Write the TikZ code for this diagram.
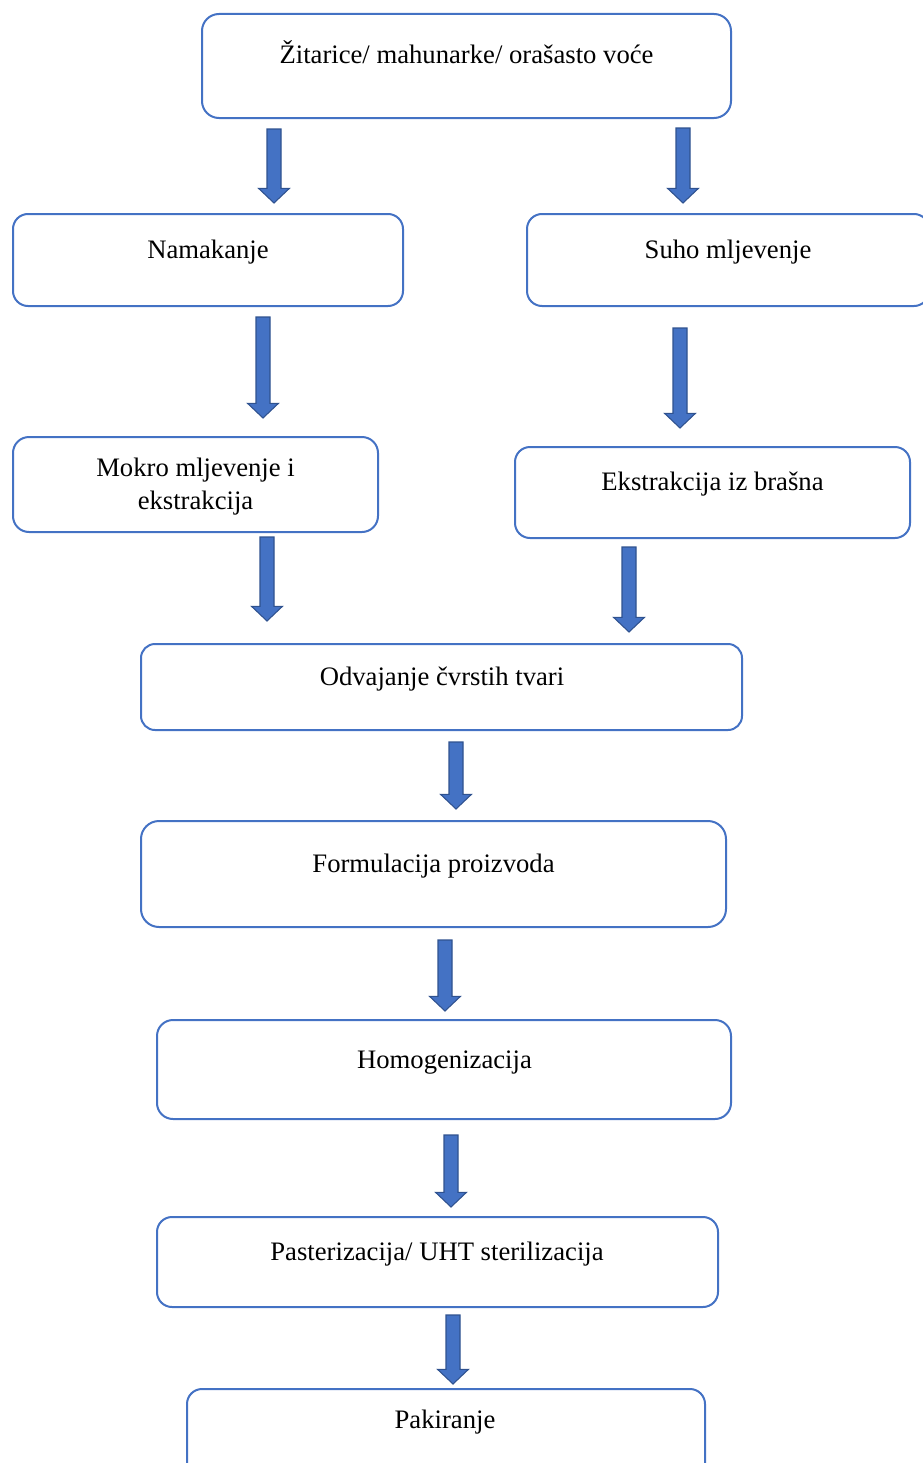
\documentclass[tikz,border=0pt]{standalone}
\usepackage{fontspec}
\setmainfont{Liberation Serif}
\usetikzlibrary{calc}
\definecolor{boxblue}{HTML}{4472C4}
\definecolor{arrowedge}{HTML}{2F528F}
\tikzset{
  stepbox/.style={draw=boxblue, line width=1.5pt, rounded corners=#1*0.75pt},
  steptext/.style={font=\fontsize{20}{24.75}\selectfont, anchor=base, inner sep=0pt, align=center},
  blkarr/.style={fill=boxblue, draw=arrowedge, line width=0.8pt, line join=miter}
}
\newcommand{\blkarrow}[2]{%
  \draw[blkarr] let \p1=(#1), \p2=(#2) in
    (\x1-5.25pt,\y1) -- (\x1+5.25pt,\y1) -- (\x1+5.25pt,\y2+11pt) --
    (\x1+11.6pt,\y2+11pt) -- (\x1,\y2) -- (\x1-11.6pt,\y2+11pt) --
    (\x1-5.25pt,\y2+11pt) -- cycle;}
\begin{document}
\begin{tikzpicture}[x=0.75pt,y=-0.75pt]
\useasboundingbox (0,0) rectangle (922,1463);
% boxes
\draw[stepbox=17] (202,14) rectangle (731,118) coordinate (b1se);
\coordinate (b1) at (466.5,66);
\draw[stepbox=15] (13,214) rectangle (403,306);
\coordinate (b2) at (208,260);
\draw[stepbox=15] (527,214) rectangle (929,306);
\coordinate (b3) at (728,260);
\draw[stepbox=16] (13,437) rectangle (378,532);
\coordinate (b4) at (195.5,484);
\draw[stepbox=15] (515,447) rectangle (910,538);
\coordinate (b5) at (712.5,492);
\draw[stepbox=14] (141,644) rectangle (742,730);
\coordinate (b6) at (441.5,687);
\draw[stepbox=18] (141,821) rectangle (726,927);
\coordinate (b7) at (433.5,874);
\draw[stepbox=16] (157,1020) rectangle (731,1119);
\coordinate (b8) at (444,1069);
\draw[stepbox=15] (157,1217) rectangle (718,1307);
\coordinate (b9) at (437.5,1262);
\draw[stepbox=15] (187,1389) rectangle (705,1478);
\coordinate (b10) at (446,1433);
% texts
\node[steptext] (t1) at (466.5,64) {Žitarice/ mahunarke/ orašasto voće};
\node[steptext] (t2) at (208,258) {Namakanje};
\node[steptext] (t3) at (728,258) {Suho mljevenje};
\node[steptext] (t4a) at (195.5,476) {Mokro mljevenje i};
\node[steptext] (t4b) at (195.5,509) {ekstrakcija};
\node[steptext] (t5) at (712.5,490) {Ekstrakcija iz brašna};
\node[steptext] (t6) at (442,685) {Odvajanje čvrstih tvari};
\node[steptext] (t7) at (433.5,872) {Formulacija proizvoda};
\node[steptext] (t8) at (444.5,1068) {Homogenizacija};
\node[steptext] (t9) at (437,1260) {Pasterizacija/ UHT sterilizacija};
\node[steptext] (t10) at (445,1428) {Pakiranje};
% arrow end points
\coordinate (a1s) at (274,129);  \coordinate (a1e) at (274,203);
\coordinate (a2s) at (683,128);  \coordinate (a2e) at (683,203);
\coordinate (a3s) at (263,317);  \coordinate (a3e) at (263,418);
\coordinate (a4s) at (680,328);  \coordinate (a4e) at (680,428);
\coordinate (a5s) at (267,537);  \coordinate (a5e) at (267,621);
\coordinate (a6s) at (629,547);  \coordinate (a6e) at (629,632);
\coordinate (a7s) at (456,742);  \coordinate (a7e) at (456,809);
\coordinate (a8s) at (445,940);  \coordinate (a8e) at (445,1011);
\coordinate (a9s) at (451,1135); \coordinate (a9e) at (451,1207);
\coordinate (a10s) at (453,1315); \coordinate (a10e) at (453,1384);
\blkarrow{a1s}{a1e}
\blkarrow{a2s}{a2e}
\blkarrow{a3s}{a3e}
\blkarrow{a4s}{a4e}
\blkarrow{a5s}{a5e}
\blkarrow{a6s}{a6e}
\blkarrow{a7s}{a7e}
\blkarrow{a8s}{a8e}
\blkarrow{a9s}{a9e}
\blkarrow{a10s}{a10e}
\end{tikzpicture}
\end{document}
